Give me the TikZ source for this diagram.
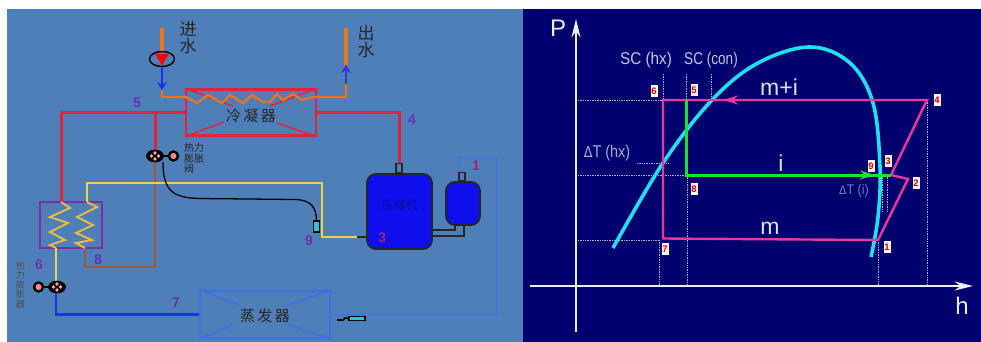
\documentclass[tikz,border=0pt]{standalone}
\usepackage{fontspec}
\setmainfont{Liberation Sans}
\setsansfont{Liberation Sans}
\newfontfamily\cjkfont{Noto Sans CJK SC}
\newfontfamily\symfont{DejaVu Sans}
\usepackage{xcolor}
\usetikzlibrary{
  arrows.meta, positioning, shapes.geometric, calc
}
\definecolor{colPanel}  {HTML}{4F7FB9}
\definecolor{colNavy}   {HTML}{00006F}
\definecolor{colRed}    {HTML}{E2233C}
\definecolor{colOrange} {HTML}{E8761E}
\definecolor{colYellow} {HTML}{EFD24A}
\definecolor{colBrown}  {HTML}{9A5B3C}
\definecolor{colPurple} {HTML}{7A2FA8}
\definecolor{colBlue}   {HTML}{1438E0}
\definecolor{colBlueLt} {HTML}{3F6FE6}
\definecolor{colComp}   {HTML}{0F0FEE}
\definecolor{colCyan}   {HTML}{1FE0F0}
\definecolor{colPink}   {HTML}{E8389A}
\definecolor{colGreen}  {HTML}{10E830}
\definecolor{colGrayLt} {HTML}{C2C8E2}
\tikzset{
  pipebase/.style ={line width=3pt, line join=miter},
  redpipe/.style  ={pipebase, draw=colRed},
  waterpipe/.style={pipebase, draw=colOrange, line width=3.2pt},
  yellowpipe/.style={pipebase, draw=colYellow, line width=2.2pt},
  brownpipe/.style={pipebase, draw=colBrown, line width=2.4pt},
  bluepipe/.style ={pipebase, draw=colBlue, line width=2.4pt},
  returnpipe/.style={line width=1.3pt, draw=colBlueLt!65!colPanel},
  blackpipe/.style={line width=1.6pt, draw=black!85},
  flowarr/.style  ={
    -{Stealth[length=8pt,width=10pt]},
    line width=1.8pt
  },
  exbox/.style    ={draw, line width=2.4pt, inner sep=0pt},
  condbox/.style  ={exbox, draw=colRed, minimum width=130pt, minimum height=46pt},
  evapbox/.style  ={exbox, draw=colBlueLt, minimum width=130pt, minimum height=47pt},
  hxbox/.style    ={exbox, draw=colPurple, minimum width=62pt, minimum height=46pt},
  condvane/.style ={line width=1.5pt, draw=colRed},
  evapvane/.style ={line width=1.5pt, draw=colBlueLt},
  tank/.style     ={
    draw=black!85, line width=1.8pt, fill=colComp, inner sep=0pt,
    rounded corners=9pt
  },
  stub/.style     ={
    draw=black!85, line width=1.4pt, fill=colPanel, inner sep=0pt,
    minimum width=6pt, minimum height=9pt
  },
  sensbulb/.style ={
    draw=black, line width=1.4pt, fill=colCyan!70!colPanel, inner sep=0pt
  },
  valve/.style    ={
    ellipse, draw=black, line width=1.5pt, fill=black, inner sep=0pt,
    minimum width=16pt, minimum height=11pt
  },
  valvebulb/.style={
    circle, draw=black, line width=2.4pt, fill=pink!70!red, inner sep=0pt,
    minimum size=9pt
  },
  valvedot/.style ={circle, fill=pink!85!red, inner sep=1.3pt},
  coil/.style     ={line width=1.9pt, line join=miter, draw=colYellow!75!colOrange},
  partlabel/.style={inner sep=0pt, font=\cjkfont, text=black!85},
  numlabel/.style ={inner sep=0pt, font=\fontsize{14}{14}\selectfont\bfseries, text=colPurple!85!colBlue},
  dome/.style     ={line width=3.6pt, draw=colCyan},
  cycle/.style    ={line width=2.4pt, draw=colPink, line join=miter},
  injection/.style={line width=3pt, draw=colGreen, line join=miter},
  guide/.style    ={line width=0.7pt, draw=white!70!colNavy, densely dotted},
  axisline/.style ={
    line width=1.5pt, draw=white!92!colNavy,
    -{Stealth[length=6.5mm,width=3.2mm]}
  },
  statebox/.style ={
    fill=white!85!pink, inner sep=0pt, minimum width=7pt, minimum height=12pt,
    text=red!85!black, font=\fontsize{9.5}{9.5}\selectfont\bfseries
  },
  axislabel/.style={inner sep=0pt, text=white!92!colNavy, font=\fontsize{24}{24}\selectfont},
  sclabel/.style  ={inner sep=0pt, text=colGrayLt, font=\fontsize{17}{17}\selectfont, transform shape},
  flowlabel/.style={inner sep=0pt, text=white!88!colNavy, font=\fontsize{23}{23}\selectfont}
}
\newcommand{\valvedots}[1]{%
  \node[valvedot] at ($(#1)+(-3.5,0)$) {};
  \node[valvedot] at ($(#1)+(3.5,0)$) {};
  \node[valvedot] at ($(#1)+(0,-3)$) {};
  \node[valvedot] at ($(#1)+(0,3)$) {};
}

\begin{document}
\begin{tikzpicture}[x=1pt, y=-1pt]
        \useasboundingbox (0,0) rectangle (981,342);
        \fill[white] (0,0) rectangle (981,342);
        \fill[colPanel] (7,9) rectangle (523,342);
        \fill[colNavy] (523,9) rectangle (981,342);

        %% ── Left panel: heat exchangers ─────────────────────────────────
        \node[condbox] (cond) at (251,112.5) {};
        \node[evapbox] (evap) at (265,314.5) {};
        \node[hxbox]   (hx)   at (71,225) {};

        \draw[condvane] (cond.north west) -- (233,106);
        \draw[condvane] (cond.south west) -- (224,122);
        \draw[condvane] (cond.north east) -- (270,106);
        \draw[condvane] (cond.south east) -- (277,123);
        \draw[evapvane] (evap.north west) -- (240,305);
        \draw[evapvane] (evap.south west) -- (233,325);
        \draw[evapvane] (evap.north east) -- (288,305);
        \draw[evapvane] (evap.south east) -- (288,325);

        \node[partlabel, font=\cjkfont\fontsize{15}{15}\selectfont] (condtxt) at (cond.center) [yshift=-3.5pt] {冷\,凝\,器};
        \node[partlabel, font=\cjkfont\fontsize{15}{15}\selectfont] (evaptxt) at (evap.center) [yshift=-1.5pt] {蒸\,发\,器};

        %% ── Water circuit ───────────────────────────────────────────────
        \node[ellipse, draw=black, line width=1.4pt, inner sep=0pt,
              minimum width=25pt, minimum height=15pt] (pump) at (162,59) {};
        \node[regular polygon, regular polygon sides=3, shape border rotate=180,
              fill=red, inner sep=0pt, minimum size=15pt] (pumptri) at (162,58) {};
        \coordinate (wtop)  at (162,28);
        \coordinate (wdown) at (162,90);
        \coordinate (otop)  at (346,28);
        \coordinate (omid)  at (346,65);
        \coordinate (obot)  at (346,84);
        \draw[waterpipe] (wtop) -- (pump.north);
        \draw[flowarr, colBlue] (pump.south) -- (wdown);
        \draw[waterpipe, line width=2.4pt]
          (wdown) |- (186,97) -- (197,103) -- (208,95) -- (222,103) -- (230,95)
          -- (243,103) -- (252,95) -- (263,102) -- (270,102) -- (277,94)
          -- (283,100) -- (293,94) -- (302,100) -- (313,97) -| (obot);
        \draw[flowarr, colPurple!40!colBlue] (obot) -- (omid);
        \draw[waterpipe] (omid) -- (otop);

        \node[partlabel, font=\cjkfont\fontsize{17}{17}\selectfont, align=center] (wintxt)
          at (188,37.5) {进\\水};
        \node[partlabel, font=\cjkfont\fontsize{17}{17}\selectfont, align=center] (wouttxt)
          at (366,41.5) {出\\水};

        %% ── Compressor and accumulator ──────────────────────────────────
        \node[tank, minimum width=65pt, minimum height=75pt] (comp) at (399.5,211.5) {};
        \node[tank, minimum width=34pt, minimum height=43pt] (accu) at (463,203.5) {};
        \node[stub, above=0pt of comp.north, xshift=-0.5pt] (compstub) {};
        \node[stub, minimum height=8pt, above=0pt of accu.north, xshift=-1pt] (accustub) {};
        \node[partlabel, text=black!30!colComp, font=\cjkfont\fontsize{12}{12}\selectfont,
              below=26pt of comp.north] (comptxt) {压缩机};
        \node[numlabel, text=colPurple!70!red, above right=7pt and 12pt of comp.south west] (n3) {3};

        \coordinate (aout) at ($(accu.south)+(-8,0)$);
        \coordinate (aret) at ($(accu.south)+(1,0)$);
        \draw[blackpipe] (comp.east |- 0,230) -| (aout);
        \draw[blackpipe] (comp.east |- 0,236) -| (aret);

        %% ── Refrigerant lines ───────────────────────────────────────────
        \coordinate (junc)  at (155,113);
        \coordinate (hxinA) at (61,202);
        \coordinate (hxinB) at (87,202);
        \coordinate (hxoutA) at (56,248);
        \coordinate (hxoutB) at (85,248);
        \node[valve] (valveA) at (155,156) {};
        \node[valvebulb, right=4pt of valveA] (bulbA) {};
        \node[valve] (valveB) at (57,287) {};
        \node[valvebulb, left=4pt of valveB] (bulbB) {};
        \node[sensbulb, minimum width=6pt, minimum height=11pt] (sensA) at (316.5,226.5) {};
        \node[sensbulb, minimum width=16pt, minimum height=4pt] (sensB) at (357,318.5) {};

        \draw[redpipe] (compstub.north) -- (compstub.north |- cond.east) -- (cond.east);
        \draw[redpipe] (cond.west) -| (hxinA);
        \draw[redpipe] (junc) -- (valveA.north);
        \draw[brownpipe] (valveA.south) |- (85,267) -- (hxoutB);
        \draw[yellowpipe] (hxinB) |- (322,183) |- (357,237);
        \draw[blackpipe] (357,237) -- (comp.west |- 0,237);
        \draw[yellowpipe] (hxoutA) -- (valveB.north -| hxoutA);
        \draw[bluepipe] (valveB.south -| hxoutA) |- (evap.west);
        \draw[returnpipe] (accustub.north west) |- (497,158) |- (evap.east |- 0,315);

        \draw[black, line width=1.5pt] (valveA.east) -- (bulbA.west);
        \draw[black, line width=1.5pt] (valveB.west) -- (bulbB.east);
        \draw[black, line width=1.3pt] (163,162)
          .. controls (163,190) and (172,198) .. (200,198.5)
          -- (295,199.5) .. controls (312,200) and (316,208) .. (sensA.north);
        \draw[black, line width=1.6pt] (337,320) -- (343,320) -- (345,318) -- (sensB.west);
        \node[valve] at (valveA) {};
        \valvedots{valveA}
        \node[valve] at (valveB) {};
        \valvedots{valveB}

        %% zigzag coils in the economiser
        \draw[coil] (hxinA) -- (70,208) -- (50,217) -- (68,223) -- (50,232)
          -- (65,240) -- (50,245) -- (hxoutA);
        \draw[coil] (hxinB) -- (97,207) -- (77,217) -- (93,225) -- (76,233)
          -- (92,240) -- (76,243) -- (hxoutB);

        %% ── Left panel: small labels ────────────────────────────────────
        \node[numlabel] (n5) at (137,103) {5};
        \node[numlabel] (n4) at (412,120) {4};
        \node[numlabel, text=colPurple!70!red] (n1) at (476,166) {1};
        \node[numlabel] (n9) at (309,241) {9};
        \node[numlabel] (n8) at (98,260) {8};
        \node[numlabel] (n6) at (39,265) {6};
        \node[numlabel] (n7) at (176,303) {7};
        \node[partlabel, font=\cjkfont\fontsize{10}{10.5}\selectfont, align=left, anchor=west,
              text=black!85] (valvetxtA) at (184,158.5) {热力\\膨胀\\阀};
        \node[partlabel, font=\cjkfont\fontsize{9}{9.5}\selectfont, align=center, text=black!70] (valvetxtB)
          at (20.5,285) {热\\力\\膨\\胀\\器};

        %% ── Right panel: guides ─────────────────────────────────────────
        \foreach \py/\pxa/\pxb in {100/578/663, 175/578/686, 240/578/658, 163/637/668}
          \draw[guide] (\pxa,\py) -- (\pxb,\py);
        \foreach \px/\pya/\pyb in {663/74/100, 686/74/100, 711/74/100, 659/240/286,
            687/175/286, 878/240/286, 927/100/286, 882/175/212, 887/175/212}
          \draw[guide] (\px,\pya) -- (\px,\pyb);

        %% ── Right panel: axes ───────────────────────────────────────────
        \coordinate (yorig) at (576,332);
        \coordinate (ytip)  at (576,19);
        \coordinate (xorig) at (530,286);
        \coordinate (xtip)  at (973,286);
        \draw[axisline] (yorig) -- (ytip);
        \draw[axisline] (xorig) -- (xtip);
        \node[axislabel] (plabel) at (558,28) {P};
        \node[axislabel] (hlabel) at (962,306) {h};

        %% ── Right panel: saturation dome ────────────────────────────────
        \draw[dome] plot[smooth, tension=0.6] coordinates {
          (613,248) (663,163) (712,100) (758,63) (810,47)
          (850,63) (873,103) (880,167) (878,217) (871,257)};

        %% ── Right panel: cycle ──────────────────────────────────────────
        \coordinate (p1) at (878,240);
        \coordinate (p2) at (908,179);
        \coordinate (p3) at (891,175);
        \coordinate (p4) at (927,100);
        \coordinate (p5) at (686,100);
        \coordinate (p6) at (663,100);
        \coordinate (p7) at (663,238.5);
        \coordinate (p8) at (686,175);
        \draw[cycle] (p6) -- (p4) -- (p3) -- (p2) -- (p1) -- (p7) -- cycle;
        \draw[injection] (p5) -- (p8) -- (p3);
        \draw[cycle, -{Stealth[length=15pt,width=9pt]}] (760,100) -- (723,100);
        \draw[injection, -{Stealth[length=15pt,width=9pt]}] (800,175) -- (875,175);

        \node[statebox] (s6) at (654,91) {6};
        \node[statebox] (s5) at (694,90) {5};
        \node[statebox] (s8) at (694,189) {8};
        \node[statebox] (s7) at (665,249) {7};
        \node[statebox] (s9) at (871,166) {9};
        \node[statebox] (s3) at (888,161) {3};
        \node[statebox] (s2) at (916,183) {2};
        \node[statebox] (s1) at (887,247) {1};
        \node[statebox] (s4) at (937,100) {4};

        \node[sclabel, xscale=0.9] (schx)  at (646,60) {SC (hx)};
        \node[sclabel, xscale=0.8] (sccon) at (711,60) {SC (con)};
        \node[sclabel, xscale=0.85, text=colGrayLt!85!colNavy] (dthx)
          at (607,153) {{\symfont\fontsize{15}{15}\selectfont Δ}T (hx)};
        \node[sclabel, xscale=0.9, text=colGrayLt!60!colNavy, font=\fontsize{14}{14}\selectfont] (dti)
          at (854,191) {{\symfont\fontsize{12}{12}\selectfont Δ}T (i)};
        \node[flowlabel] (lbmi) at (779,87) {m+i};
        \node[flowlabel] (lbi)  at (781,163) {i};
        \node[flowlabel] (lbm)  at (770,228) {m};
      \end{tikzpicture}
\end{document}
